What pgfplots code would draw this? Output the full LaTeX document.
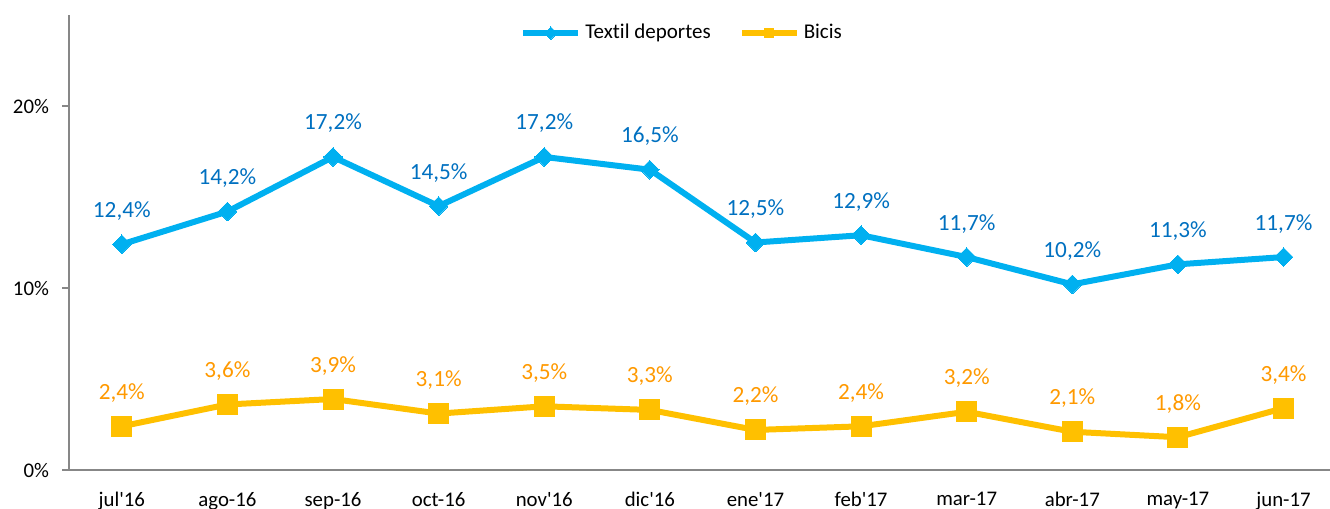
\documentclass[border=0pt]{standalone}
\usepackage{fontspec}
\setmainfont{Carlito}
\usepackage{pgfplots}
\pgfplotsset{compat=1.18}
\definecolor{axgray}{HTML}{878787}
\definecolor{tline}{HTML}{00B0F0}
\definecolor{tlab}{HTML}{0070C0}
\definecolor{bline}{HTML}{FFC000}
\definecolor{blab}{HTML}{FF9900}

\begin{document}
\begin{tikzpicture}[x=1pt,y=1pt]
\begin{axis}[
  name=ax,
  at={(0,0)}, anchor=south west,
  width=630.5pt, height=227.5pt, scale only axis,
  xmin=-0.5, xmax=11.44, ymin=0, ymax=25,
  axis lines=left,
  axis line style={axgray, line width=1pt, -},
  clip=false,
  xtick={0,...,11},
  xticklabels={jul\textquotesingle16,ago-16,sep-16,oct-16,nov\textquotesingle16,dic\textquotesingle16,ene\textquotesingle17,feb\textquotesingle17,mar-17,abr-17,may-17,jun-17},
  minor xtick={-0.5,0.5,...,10.5},
  x tick style={draw=none},
  minor x tick style={axgray, line width=1pt},
  minor tick length=4pt,
  ytick={0,10,20},
  yticklabels={0\%,10\%,20\%},
  y tick style={axgray, line width=1pt},
  major tick length=3.5pt,
  tick align=outside,
  tick label style={font=\fontsize{10.4}{12}\selectfont, text=black},
  x tick label style={yshift=-4pt},
  y tick label style={xshift=-3pt},
  /pgf/number format/assume math mode=true,
  nodes near coords={\pgfmathprintnumber[fixed,fixed zerofill,precision=1,use comma]{\pgfplotspointmeta}\%},
  nodes near coords style={font=\fontsize{11.6}{13}\selectfont, anchor=base, yshift=13.5pt, inner sep=0pt},
  legend style={at={(0.487,0.96)}, anchor=center, draw=none, fill=none,
    legend columns=2, font=\fontsize{10.5}{12}\selectfont,
    /tikz/every even column/.append style={column sep=12pt}},
  legend image code/.code={%
    \draw[#1, mark size=2.2pt, mark repeat=2, mark phase=2] plot coordinates {(0pt,0pt) (13.75pt,0pt) (27.5pt,0pt)};},
]
\addplot[tline, line width=3pt, mark=square*, mark size=3.3pt,
  mark options={rotate=45, solid, line width=0pt, fill=tline},
  nodes near coords style={text=tlab}]
  coordinates {(0,12.4) (1,14.2) (2,17.2) (3,14.5) (4,17.2) (5,16.5)
               (6,12.5) (7,12.9) (8,11.7) (9,10.2) (10,11.3) (11,11.7)};
\addlegendentry{Text\kern0pt il deportes}
\addplot[bline, line width=3pt, mark=square*, mark size=5pt,
  mark options={solid, line width=0pt, fill=bline},
  nodes near coords style={text=blab}]
  coordinates {(0,2.4) (1,3.6) (2,3.9) (3,3.1) (4,3.5) (5,3.3)
               (6,2.2) (7,2.4) (8,3.2) (9,2.1) (10,1.8) (11,3.4)};
\addlegendentry{Bicis}
\end{axis}
\pgfresetboundingbox
\path (-34.5pt,-19.5pt) rectangle (630.5pt,235pt);
\end{tikzpicture}
\end{document}
